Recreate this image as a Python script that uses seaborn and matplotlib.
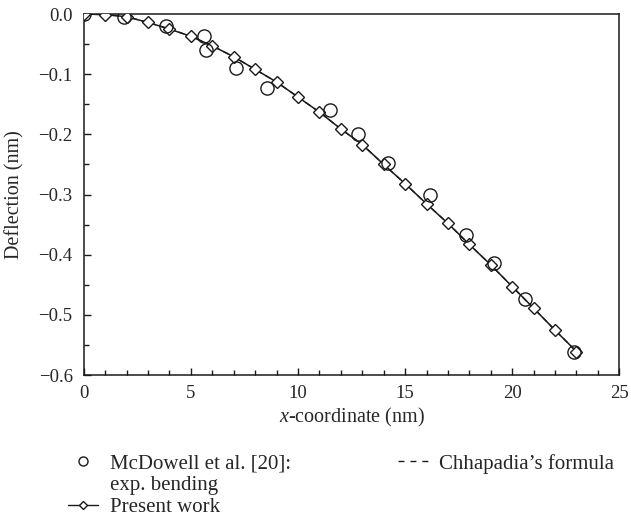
import numpy as np
import pandas as pd
import matplotlib
matplotlib.use("Agg")
import matplotlib.pyplot as plt
import seaborn as sns
from matplotlib.lines import Line2D
from matplotlib.ticker import MultipleLocator

# Present work: deflection along the nanowire
x_present = [0, 1, 2, 3, 4, 5, 6, 7, 8, 9, 10, 11, 12, 13, 14, 15, 16, 17, 18, 19, 20, 21, 22, 23]
y_present = [0.0, -0.001, -0.0045, -0.014, -0.025, -0.037, -0.053, -0.071, -0.092, -0.113,
             -0.138, -0.163, -0.191, -0.217, -0.250, -0.282, -0.3155, -0.348, -0.383,
             -0.417, -0.453, -0.489, -0.5255, -0.561]

# Chhapadia's formula
x_formula = [0, 1, 2, 3, 4, 5, 6, 7, 8, 9, 10, 11, 12, 13, 14, 15, 16, 17, 18, 19, 20, 21, 22, 23]
y_formula = [0.0, -0.001, -0.0045, -0.014, -0.025, -0.037, -0.053, -0.071, -0.092, -0.113,
             -0.138, -0.163, -0.191, -0.217, -0.250, -0.282, -0.3155, -0.348, -0.383,
             -0.417, -0.453, -0.489, -0.5255, -0.561]

# McDowell et al. [20]: experimental bending
x_exp = [0.0, 1.9, 3.82, 5.61, 5.72, 7.12, 8.55, 11.48, 12.8, 14.2, 16.15, 17.82, 19.16, 20.6, 22.9]
y_exp = [0.0, -0.0055, -0.0195, -0.036, -0.060, -0.0895, -0.123, -0.160, -0.200, -0.248,
         -0.300, -0.368, -0.4145, -0.474, -0.5617]

x_ticks = [0, 5, 10, 15, 20, 25]
y_ticks = [0.0, -0.1, -0.2, -0.3, -0.4, -0.5, -0.6]

sns.set_style("ticks")
plt.rcParams["font.family"] = ["Liberation Serif", "DejaVu Serif"]
plt.rcParams["mathtext.fontset"] = "custom"
plt.rcParams["mathtext.it"] = "Liberation Serif:italic"
plt.rcParams["mathtext.rm"] = "Liberation Serif"

fig = plt.figure(figsize=(6.31, 5.25), dpi=100)
ax = fig.add_axes([0.1327, 0.2857, 0.8488, 0.6876])

df_present = pd.DataFrame({"x": x_present, "y": y_present})
df_formula = pd.DataFrame({"x": x_formula, "y": y_formula})
df_exp = pd.DataFrame({"x": x_exp, "y": y_exp})

ink = "#1a1a1a"
text_ink = "#262626"

sns.lineplot(data=df_formula, x="x", y="y", ax=ax, color=ink, lw=1.0,
             linestyle=(0, (4, 3)), zorder=2)
sns.lineplot(data=df_present, x="x", y="y", ax=ax, color=ink, lw=1.1,
             marker="D", markersize=5.8, markerfacecolor="white",
             markeredgecolor=ink, markeredgewidth=1.0, zorder=3)
ax.plot(x_exp, y_exp, linestyle="none", marker="o", markersize=9.5,
        markerfacecolor="none", markeredgecolor=ink, markeredgewidth=1.0, zorder=4)

ax.set_xlim(0, 25)
ax.set_ylim(-0.6, 0.0)
ax.set_xticks(x_ticks)
ax.set_yticks(y_ticks)
ax.set_xticklabels([f"{v:g}" for v in x_ticks])
ax.set_yticklabels(["0.0" if v == 0 else f"\u2212{abs(v):.1f}" for v in y_ticks])
ax.xaxis.set_minor_locator(MultipleLocator(1))
ax.yaxis.set_minor_locator(MultipleLocator(0.05))
ax.tick_params(which="both", direction="in", colors=ink, labelcolor=text_ink,
               labelsize=13.5, width=1.0)
ax.tick_params(which="major", length=5)
ax.tick_params(which="minor", length=3.5)
ax.tick_params(axis="y", which="both", left=True, right=False, pad=8)
ax.tick_params(axis="x", which="both", bottom=True, top=False, pad=7)
for s in ax.spines.values():
    s.set_linewidth(1.1)
    s.set_color(ink)

ax.set_xlabel("$x$-coordinate (nm)", fontsize=14.5, color=text_ink, labelpad=3)
ax.set_ylabel("Deflection (nm)", fontsize=14.5, color=text_ink, labelpad=10)

# Legend: two columns; the second line of the first entry sits on its own row
blank = Line2D([], [], linestyle="none")
handles = [
    Line2D([], [], linestyle="none", marker="o", markersize=6.5, markerfacecolor="none",
           markeredgecolor=ink, markeredgewidth=1.0),
    blank,
    Line2D([], [], color=ink, lw=1.0, marker="D", markersize=4.5, markerfacecolor="white",
           markeredgecolor=ink),
    Line2D([], [], color=ink, lw=1.0, linestyle=(0, (4.3, 4.3))),
    blank,
    blank,
]
labels = ["McDowell et al. [20]:", "exp. bending", "Present work",
          "Chhapadia\u2019s formula", "", ""]
leg = fig.legend(handles, labels, ncol=2, loc="upper left", bbox_to_anchor=(0.108, 0.1355),
                 frameon=False, fontsize=15, handlelength=1.44, handletextpad=0.55,
                 columnspacing=5.15, labelspacing=0.1, borderpad=0, borderaxespad=0)
for t in leg.get_texts():
    t.set_color(text_ink)

fig.savefig("out.png", dpi=100)
